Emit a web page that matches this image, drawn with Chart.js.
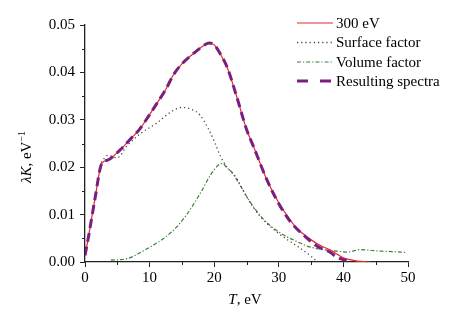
<!DOCTYPE html>
<html><head><meta charset="utf-8">
<script src="https://cdn.jsdelivr.net/npm/chart.js@4"></script>
<style>html,body{margin:0;padding:0;background:#fff}#wrap{width:459px;height:317px}</style>
</head><body><div id="wrap"><canvas id="c" width="459" height="317"></canvas></div>
<script>
// Data (T in eV, λK in 1/eV)
const seriesNames = ["300 eV", "Surface factor", "Volume factor", "Resulting spectra"];
const xTicks = [0, 10, 20, 30, 40, 50];
const yTicks = [0.00, 0.01, 0.02, 0.03, 0.04, 0.05];

const mainT = [0,0.5,1.5,2.6,3.5,5.4,7,8.5,10,11.1,12.5,13.7,15,16.8,18,19.2,20,20.9,22,23.5,25,26.1,28.2,30,31.8,33,34.4,36,38,40,41,42.1,44.2];
const mainV = [0.0014,0.005,0.013,0.0208,0.0215,0.0236,0.0259,0.0281,0.0311,0.0334,0.0364,0.0395,0.0418,0.044,0.0453,0.0462,0.0458,0.044,0.0411,0.0348,0.028,0.0243,0.0172,0.0125,0.0088,0.0068,0.0053,0.0038,0.0025,0.0009,0.0005,0.0002,0.0];

const surfT = [2.5,3.5,5,6.5,8.5,11,13.7,15,16.5,17.8,19.1,20,21,22,23.5,25,27,30,33,35,36];
const surfV = [0.021,0.0225,0.022,0.0245,0.027,0.0292,0.032,0.0326,0.0322,0.031,0.0281,0.0255,0.0222,0.020,0.0176,0.0138,0.0098,0.006,0.0032,0.0012,0.0];

const volT = [4,6.5,9.6,12,14.2,16,17.8,19.5,20.7,21.3,22,22.7,24,25.5,27.5,29.5,31.3,33,34.5,36,37.5,39,40.6,42.6,44,45.7,47.5,49.6];
const volV = [0.0004,0.0007,0.0028,0.0048,0.0074,0.0105,0.0144,0.0185,0.0205,0.0208,0.0198,0.019,0.0162,0.0128,0.0092,0.0068,0.0053,0.0042,0.0033,0.0028,0.0025,0.0023,0.0021,0.0026,0.0025,0.0023,0.0022,0.002];

const resT = [0,0.5,1.5,2.6,3.5,5.4,7,8.5,10,11.1,12.5,13.7,15,16.8,18,19.2,20,20.9,22,23.5,25,26.1,28.2,30,31.8,34.4,36,38,39,40.5];
const resV = [0.0014,0.005,0.013,0.0208,0.0215,0.0236,0.0259,0.0281,0.0311,0.0334,0.0364,0.0395,0.0418,0.044,0.0453,0.0462,0.0458,0.044,0.0411,0.0348,0.028,0.0243,0.0172,0.0123,0.0085,0.005,0.0033,0.002,0.001,0.0003];

const pts = (xs, ys) => xs.map((x, i) => ({x, y: ys[i]}));
const FONT = "Liberation Serif, Times New Roman, serif";

const styles = [
  {color: '#e8262a', width: 1.2, dash: [], ldash: []},
  {color: '#5a3a3a', width: 1.3, dash: [1.2, 3], ldash: [1.2, 3]},
  {color: '#3a7f3a', width: 1.2, dash: [4, 2, 1.2, 2], ldash: [4, 2, 1.2, 2]},
  {color: '#7a1f7f', width: 3, dash: [9, 5], ldash: [11, 12]}
];

const data = [pts(mainT, mainV), pts(surfT, surfV), pts(volT, volV), pts(resT, resV)];
const orders = [1, 2, 3, 0];

const datasets = data.map((d, i) => ({
  label: seriesNames[i], data: d,
  borderColor: styles[i].color, borderWidth: styles[i].width, borderDash: styles[i].dash,
  pointRadius: 0, fill: false, cubicInterpolationMode: 'monotone', order: orders[i]
}));

const extras = {
  id: 'extras',
  afterDraw(chart) {
    const ctx = chart.ctx, xs = chart.scales.x, ys = chart.scales.y, a = chart.chartArea;
    ctx.save();
    // minor ticks
    ctx.strokeStyle = '#222'; ctx.lineWidth = 1;
    for (let v = 5; v < 50; v += 10) {
      const px = Math.round(xs.getPixelForValue(v)) + 0.5;
      ctx.beginPath(); ctx.moveTo(px, a.bottom); ctx.lineTo(px, a.bottom + 3); ctx.stroke();
    }
    for (let v = 0.005; v < 0.05; v += 0.01) {
      const py = Math.round(ys.getPixelForValue(v)) + 0.5;
      ctx.beginPath(); ctx.moveTo(a.left, py); ctx.lineTo(a.left - 3, py); ctx.stroke();
    }
    // legend
    const ly = [23, 42.5, 62, 81];
    ctx.font = "15px " + FONT; ctx.fillStyle = '#000'; ctx.textBaseline = 'middle';
    styles.forEach((s, i) => {
      ctx.strokeStyle = s.color; ctx.lineWidth = s.width; ctx.setLineDash(s.ldash);
      ctx.beginPath(); ctx.moveTo(297, ly[i]); ctx.lineTo(333, ly[i]); ctx.stroke();
      ctx.setLineDash([]);
      ctx.fillText(seriesNames[i], 336, ly[i] + 1);
    });
    // x title
    ctx.textBaseline = 'alphabetic';
    const xparts = [["italic 15px " + FONT, "T"], ["15px " + FONT, ", eV"]];
    let tw = 0; xparts.forEach(p => { ctx.font = p[0]; tw += ctx.measureText(p[1]).width; });
    let x0 = 245 - tw / 2;
    xparts.forEach(p => { ctx.font = p[0]; ctx.fillText(p[1], x0, 304); x0 += ctx.measureText(p[1]).width; });
    // y title
    ctx.translate(31, 157); ctx.rotate(-Math.PI / 2);
    const yparts = [["italic 15px " + FONT, "λ", 0], ["italic 15px " + FONT, "K", 0], ["15px " + FONT, ", eV", 0], ["10px " + FONT, "−1", -6]];
    tw = 0; yparts.forEach(p => { ctx.font = p[0]; tw += ctx.measureText(p[1]).width; });
    x0 = -tw / 2;
    yparts.forEach(p => { ctx.font = p[0]; ctx.fillText(p[1], x0, p[2]); x0 += ctx.measureText(p[1]).width; });
    ctx.restore();
  }
};

new Chart(document.getElementById('c'), {
  type: 'line',
  data: {datasets},
  options: {
    responsive: false, animation: false, devicePixelRatio: 1,
    layout: {padding: {top: 25, right: 51, left: 0, bottom: 0}},
    plugins: {legend: {display: false}, tooltip: {enabled: false}},
    scales: {
      x: {
        type: 'linear', min: 0, max: 50,
        afterBuildTicks: s => { s.ticks = xTicks.map(v => ({value: v})); },
        afterFit: s => { s.height = 55; },
        ticks: {font: {family: FONT, size: 15}, color: '#000', padding: 2, maxRotation: 0, callback: v => String(v)},
        grid: {drawOnChartArea: false, drawTicks: true, tickLength: 5, color: '#222'},
        border: {display: true, color: '#222', width: 1.3}
      },
      y: {
        type: 'linear', min: 0, max: 0.05,
        afterBuildTicks: s => { s.ticks = yTicks.map(v => ({value: v})); },
        afterFit: s => { s.width = 85; },
        ticks: {font: {family: FONT, size: 15}, color: '#000', padding: 5, callback: v => v.toFixed(2)},
        grid: {drawOnChartArea: false, drawTicks: true, tickLength: 5, color: '#222'},
        border: {display: true, color: '#222', width: 1.3}
      }
    }
  },
  plugins: [extras]
});
</script></body></html>
